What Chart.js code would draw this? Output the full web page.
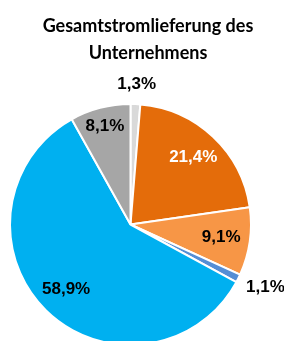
<!DOCTYPE html>
<html>
<head>
<meta charset="utf-8">
<script src="https://cdn.jsdelivr.net/npm/chart.js@4/dist/chart.umd.min.js"></script>
<style>
  html, body { margin: 0; padding: 0; background: #fff; }
  #wrap { position: relative; width: 284px; height: 341px; overflow: hidden; }
  #title {
    position: absolute; left: 148px; top: 12px; transform: translateX(-50%);
    font-family: Lato, "Open Sans", sans-serif; font-weight: bold; font-size: 18px;
    line-height: 27px; text-align: center; white-space: nowrap; color: #000;
  }
  #chart { position: absolute; left: 0; top: 0; }
</style>
</head>
<body>
<div id="wrap">
  <canvas id="chart" width="284" height="350"></canvas>
  <div id="title">Gesamtstromlieferung des<br>Unternehmens</div>
</div>
<script>
// Anteile der Stromlieferung, im Uhrzeigersinn ab 12 Uhr
const categories = ['Sonstige', 'Kategorie A', 'Kategorie B', 'Kategorie C', 'Kategorie D', 'Kategorie E'];
const shares = [1.3, 21.4, 9.1, 1.1, 58.9, 8.1];
const sliceColors = ['#D9D9D9', '#E46C0A', '#F79646', '#558ED5', '#00B0F0', '#A6A6A6'];
const labelColors = ['#000', '#fff', '#000', '#000', '#000', '#000'];

// draws the percentage labels, small slices outside
const pieLabels = {
    id: 'pieLabels',
    afterDatasetsDraw(chart) {
        const ctx = chart.ctx;
        const meta = chart.getDatasetMeta(0);
        ctx.save();
        ctx.font = 'bold 17px "Liberation Sans Narrow", "Arial Narrow", "Liberation Sans", sans-serif';
        ctx.textAlign = 'center';
        ctx.textBaseline = 'middle';
        meta.data.forEach((arc, i) => {
            const p = arc.getProps(['x', 'y', 'startAngle', 'endAngle', 'outerRadius'], true);
            const mid = (p.startAngle + p.endAngle) / 2;
            const text = shares[i].toFixed(1).replace('.', ',') + '%';
            const cos = Math.cos(mid), sin = Math.sin(mid);
            let x, y;
            if (shares[i] < 2) {
                const r = p.outerRadius + 11;
                const w = ctx.measureText(text).width;
                x = p.x + cos * r + cos * w / 2;
                y = p.y + sin * r + sin * 9;
            } else {
                const r = p.outerRadius * (shares[i] < 9 ? 0.84 : 0.76);
                x = p.x + cos * r;
                y = p.y + sin * r;
            }
            ctx.fillStyle = labelColors[i];
            ctx.fillText(text, x, y);
        });
        ctx.restore();
    }
};

new Chart(document.getElementById('chart'), {
    type: 'pie',
    data: {
        labels: categories,
        datasets: [{
            data: shares,
            backgroundColor: sliceColors,
            borderColor: '#fff',
            borderWidth: 2
        }]
    },
    options: {
        responsive: false,
        animation: false,
        layout: { padding: { top: 103, left: 9, right: 32, bottom: 4 } },
        plugins: {
            legend: { display: false },
            tooltip: { enabled: false },
            title: { display: false }
        }
    },
    plugins: [pieLabels]
});
</script>
</body>
</html>
